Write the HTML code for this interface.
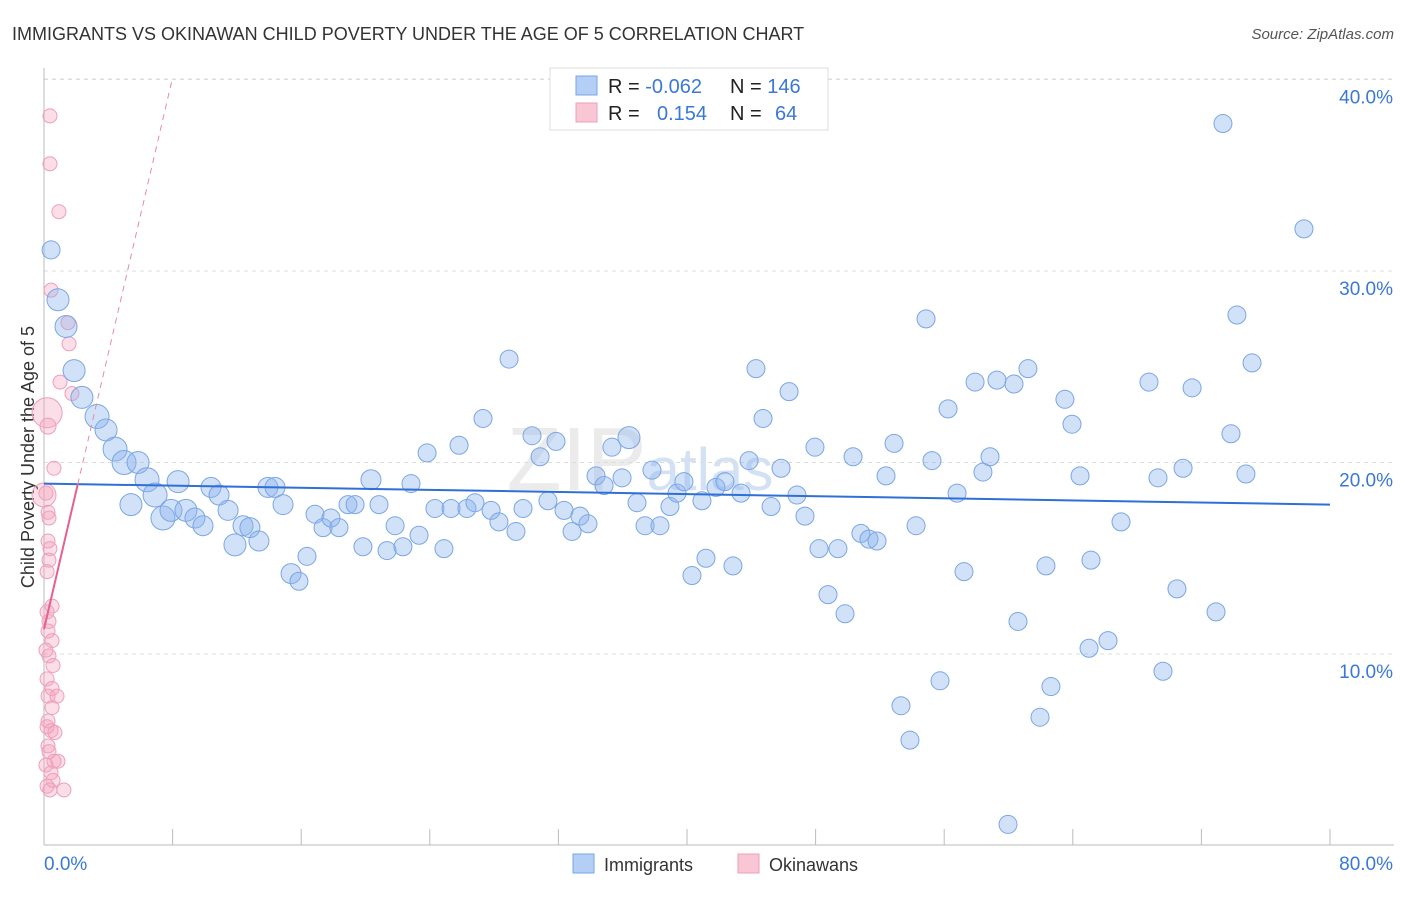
<!DOCTYPE html>
<html><head><meta charset="utf-8"><style>
body{margin:0;background:#fff;font-family:"Liberation Sans",sans-serif;}
svg text{font-family:"Liberation Sans",sans-serif;}
</style></head><body>
<svg id="chart" width="1406" height="892" xmlns="http://www.w3.org/2000/svg">
<text x="12" y="40" font-size="18" fill="#333">IMMIGRANTS VS OKINAWAN CHILD POVERTY UNDER THE AGE OF 5 CORRELATION CHART</text>
<text x="1394" y="39" font-size="15" fill="#555" text-anchor="end" font-style="italic">Source: ZipAtlas.com</text>
<text x="0" y="0" transform="translate(34,457) rotate(-90)" font-size="18" fill="#333" text-anchor="middle">Child Poverty Under the Age of 5</text>
<text x="640" y="490" font-size="90" fill="#d8d8d8" opacity="0.5" font-family="Liberation Serif" text-anchor="middle">ZIP<tspan font-size="60" fill="#a8c4ec" font-family="Liberation Sans">atlas</tspan></text>
<g id="grid"></g><g id="axes"></g><g id="pink"></g><g id="blue"></g><g id="lines"></g>
<g>
<rect x="550" y="68" width="278" height="62" fill="#fff" stroke="#ddd"/>
<rect x="576" y="76" width="21" height="19" fill="#b4cff5" stroke="#7aa6e6"/>
<rect x="576" y="103" width="21" height="19" fill="#f9c6d6" stroke="#ef9fb8"/>
<text x="608" y="93" font-size="20" fill="#222">R = <tspan fill="#3a78d6">-0.062</tspan></text>
<text x="730" y="93" font-size="20" fill="#222">N = <tspan fill="#3a78d6">146</tspan></text>
<text x="608" y="120" font-size="20" fill="#222">R = <tspan fill="#3a78d6" x="657">0.154</tspan></text>
<text x="730" y="120" font-size="20" fill="#222">N = <tspan fill="#3a78d6" x="775">64</tspan></text>
</g>
<g>
<rect x="573" y="854" width="21" height="19" fill="#b4cff5" stroke="#7aa6e6"/>
<text x="604" y="871" font-size="18" fill="#333">Immigrants</text>
<rect x="738" y="854" width="21" height="19" fill="#f9c6d6" stroke="#ef9fb8"/>
<text x="769" y="871" font-size="18" fill="#333">Okinawans</text>
</g>
</svg>
<script>
const yTicks=[10,20,30,40];
const yTickLabels=["10.0%","20.0%","30.0%","40.0%"];
const xTickLabels=["0.0%","80.0%"];
const blueX=[0.44,0.87,1.37,1.87,2.36,3.30,3.86,4.42,4.98,5.85,5.41,6.41,6.91,7.40,7.90,8.34,8.83,9.39,9.89,10.39,10.89,11.45,11.88,12.38,12.81,13.37,13.93,14.37,14.87,15.37,15.86,16.36,16.86,17.36,17.85,18.35,18.91,19.35,19.84,20.34,20.84,21.34,21.84,22.33,22.83,23.33,23.83,24.32,24.88,25.32,25.82,26.31,26.81,27.31,27.81,28.30,28.93,29.36,29.80,30.36,30.86,31.35,31.85,32.35,32.85,33.34,33.84,34.34,34.84,35.33,35.96,36.39,36.89,37.39,37.82,38.32,38.94,39.38,39.81,40.31,40.93,41.18,41.80,42.36,42.86,43.36,43.86,44.29,44.73,45.23,45.85,46.35,46.84,47.34,47.96,48.21,48.77,49.39,49.83,50.33,50.82,51.32,51.82,52.38,52.88,53.31,53.87,54.25,54.87,55.24,55.74,56.24,56.80,57.23,57.92,58.41,58.85,59.28,59.97,60.34,60.59,61.21,61.96,62.33,62.64,63.51,63.95,64.45,65.01,65.13,66.19,67.00,68.74,69.30,69.61,70.48,70.86,71.42,72.91,73.34,73.84,74.21,74.77,75.15,78.38];
const blueY=[31.1,28.5,27.1,24.8,23.4,22.4,21.7,20.7,20.0,20.0,17.8,19.1,18.3,17.1,17.5,19.0,17.5,17.1,16.7,18.7,18.3,17.5,15.7,16.7,16.6,15.9,18.7,18.7,17.8,14.2,13.8,15.1,17.3,16.6,17.1,16.6,17.8,17.8,15.6,19.1,17.8,15.4,16.7,15.6,18.9,16.2,20.5,17.6,15.5,17.6,20.9,17.6,17.9,22.3,17.5,16.9,25.4,16.4,17.6,21.4,20.3,18.0,21.1,17.5,16.4,17.2,16.8,19.3,18.8,20.8,19.2,21.3,17.9,16.7,19.6,16.7,17.7,18.4,19.0,14.1,18.0,15.0,18.7,19.0,14.6,18.4,20.1,24.9,22.3,17.7,19.7,23.7,18.3,17.2,20.8,15.5,13.1,15.5,12.1,20.3,16.3,16.0,15.9,19.3,21.0,7.3,5.5,16.7,27.5,20.1,8.6,22.8,18.4,14.3,24.2,19.5,20.3,24.3,1.1,24.1,11.7,24.9,6.7,14.6,8.3,23.3,22.0,19.3,10.3,14.9,10.7,16.9,24.2,19.2,9.1,13.4,19.7,23.9,12.2,37.7,21.5,27.7,19.4,25.2,32.2];
const blueWeight=[9,11,11,11,11,12,11,12,12,11,11,12,12,12,11,11,11,10,10,10,10,10,11,10,10,10,10,10,10,10,9,9,9,9,9,9,9,9,9,10,9,9,9,9,9,9,9,9,9,9,9,9,9,9,9,9,9,9,9,9,9,9,9,9,9,9,9,9,9,9,9,11];
const pinkX=[0.37,0.37,0.93,0.44,1.49,1.56,1.0,1.74,0.19,0.25,0.62,0.12,0.25,0.31,0.25,0.37,0.31,0.19,0.5,0.19,0.31,0.25,0.5,0.12,0.31,0.56,0.19,0.5,0.25,0.81,0.5,0.25,0.19,0.44,0.68,0.25,0.31,0.62,0.87,0.12,0.44,0.56,0.19,1.24,0.37,0.0];
const pinkY=[38.1,35.6,33.1,29.0,27.3,26.2,24.2,23.6,22.6,21.9,19.7,18.4,17.4,17.1,15.9,15.5,14.9,14.3,12.5,12.2,11.7,11.2,10.7,10.2,9.9,9.4,8.7,8.2,7.8,7.8,7.2,6.5,6.2,6.0,5.9,5.2,4.9,4.4,4.4,4.2,3.8,3.4,3.1,2.9,2.9,18.3];
const pinkWeight=[7,7,7,7,7,7,7,7,15,8,7,7,7,7,7,7,7,7,7,7,7,7,7,7,7,7,7,7,7,7,7,7,7,7,7,7,7,7,7,7,7,7,7,7,7,12];
const blueTrend=[18.9,17.8];
const pinkTrend=[11.3,3.6];
const NS="http://www.w3.org/2000/svg";
const X=v=>44+v*(1330-44)/80;
const Y=v=>845.5-v*19.15;
function mk(tag,attrs,parent){const e=document.createElementNS(NS,tag);for(const k in attrs)e.setAttribute(k,attrs[k]);document.getElementById(parent).appendChild(e);return e;}
yTicks.forEach((t,i)=>{
 const g=mk('line',{x1:44,x2:1394,y1:Y(t),y2:Y(t),stroke:'#ddd','stroke-dasharray':'4,4'},'grid');
 
 
 const l=mk('text',{x:1393,y:Y(t)+24,'font-size':19,fill:'#3a78d6','text-anchor':'end'},'axes');
 l.textContent=yTickLabels[i];
 
 
});
const topGrid=mk('line',{x1:44,x2:1394,y1:79,y2:79,stroke:'#ddd','stroke-dasharray':'4,4'},'grid');


const ya=mk('line',{x1:44,x2:44,y1:68,y2:845,stroke:'#bbb'},'axes');


const xa=mk('line',{x1:44,x2:1394,y1:845,y2:845,stroke:'#bbb'},'axes');


for(let i=0;i<=10;i++){
 const t=mk('line',{x1:X(i*8),x2:X(i*8),y1:829,y2:845,stroke:'#bbb'},'axes');
 
 
}
const xl0=mk('text',{x:44,y:870,'font-size':19,fill:'#3a78d6'},'axes');
xl0.textContent=xTickLabels[0];


const xl1=mk('text',{x:1393,y:870,'font-size':19,fill:'#3a78d6','text-anchor':'end'},'axes');
xl1.textContent=xTickLabels[1];


pinkX.forEach((v,i)=>{
 const c=mk('circle',{cx:X(v),cy:Y(pinkY[i]),r:pinkWeight[i],fill:'rgba(244,160,188,0.35)',stroke:'#ef9fb8','stroke-width':1},'pink');
 
 
});
blueX.forEach((v,i)=>{
 const c=mk('circle',{cx:X(v),cy:Y(blueY[i]),r:blueWeight[i]||9,fill:'rgba(140,180,238,0.4)',stroke:'#7aa6e6','stroke-width':1},'blue');
 
 
});
const bl=mk('line',{x1:X(0),y1:Y(blueTrend[0]),x2:X(80),y2:Y(blueTrend[1]),stroke:'#2f6fd6','stroke-width':2},'lines');


const pd=mk('line',{x1:X(2.1),y1:Y(pinkTrend[0]+pinkTrend[1]*2.1),x2:X(8),y2:Y(pinkTrend[0]+pinkTrend[1]*8),stroke:'#e88aa8','stroke-width':1,'stroke-dasharray':'6,5'},'lines');


const ps=mk('line',{x1:X(0),y1:Y(pinkTrend[0]),x2:X(2.1),y2:Y(pinkTrend[0]+pinkTrend[1]*2.1),stroke:'#e8608a','stroke-width':2},'lines');


</script>
</body></html>
